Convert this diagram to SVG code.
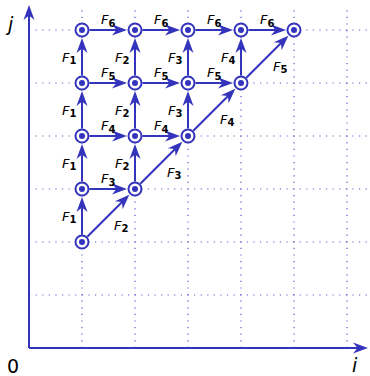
<svg xmlns="http://www.w3.org/2000/svg" width="370" height="376" viewBox="0 0 370 376">
<style>
.grid{stroke:#5a5ad0;stroke-width:1.2;stroke-dasharray:1.2 5.4;fill:none}
.axis{stroke:#3333bb;stroke-width:2;fill:none}
.edge{stroke:#3333bb;stroke-width:2;fill:none;marker-end:url(#ah)}
.node circle.o{fill:#fff;stroke:#3333bb;stroke-width:2}
.node circle.i{fill:#3333bb}
.lbl{font-family:"DejaVu Sans",sans-serif;font-size:13px;fill:#000}
.lbl .f{font-style:italic}
.lbl .s{font-weight:bold;font-size:10px}
.ax{font-family:"DejaVu Sans",sans-serif;font-size:19px;fill:#000}
</style>
<defs>
<marker id="ah" viewBox="-16 -6 17 12" markerWidth="17" markerHeight="12" refX="-5" refY="0" orient="auto" markerUnits="userSpaceOnUse">
<path d="M0,0 L-15,-5.5 L-10.5,0 L-15,5.5 Z" fill="#3333bb"/>
</marker>
<marker id="axh" viewBox="-16 -6 17 12" markerWidth="17" markerHeight="12" refX="-5" refY="0" orient="auto" markerUnits="userSpaceOnUse">
<path d="M0,0 L-15,-5.5 L-10.5,0 L-15,5.5 Z" fill="#3333bb"/>
</marker>
</defs>
<g id="grid">
<path class="grid" d="M82,348V8M135,348V8M188,348V8M241,348V8M294,348V8M347,348V8"/>
<path class="grid" d="M29,295H369M29,242H369M29,189H369M29,136H369M29,83H369M29,30H369"/>
</g>
<g id="axes">
<path class="axis" d="M29,348V10" marker-end="url(#axh)"/>
<path class="axis" d="M29,348H363" marker-end="url(#axh)"/>
<text class="ax" x="8" y="31" font-style="italic">j</text>
<text class="ax" x="352" y="372" font-style="italic">i</text>
<text class="ax" x="7" y="373">0</text>
</g>
<g id="connectors">
<path class="edge" d="M82,234.5V202"/>
<path class="edge" d="M82,181.5V149"/>
<path class="edge" d="M82,128.5V96"/>
<path class="edge" d="M82,75.5V43"/>
<path class="edge" d="M135,181.5V149"/>
<path class="edge" d="M135,128.5V96"/>
<path class="edge" d="M135,75.5V43"/>
<path class="edge" d="M188,128.5V96"/>
<path class="edge" d="M188,75.5V43"/>
<path class="edge" d="M241,75.5V43"/>
<path class="edge" d="M89.5,189H122"/>
<path class="edge" d="M89.5,136H122"/>
<path class="edge" d="M142.5,136H175"/>
<path class="edge" d="M89.5,83H122"/>
<path class="edge" d="M142.5,83H175"/>
<path class="edge" d="M195.5,83H228"/>
<path class="edge" d="M89.5,30H122"/>
<path class="edge" d="M142.5,30H175"/>
<path class="edge" d="M195.5,30H228"/>
<path class="edge" d="M248.5,30H281"/>
<path class="edge" d="M87.3,236.7L125.81,198.19"/>
<path class="edge" d="M140.3,183.7L178.81,145.19"/>
<path class="edge" d="M193.3,130.7L231.81,92.19"/>
<path class="edge" d="M246.3,77.7L284.81,39.19"/>
</g>
<g id="n12" class="node"><circle class="o" cx="82" cy="242" r="6.5"/><circle class="i" cx="82" cy="242" r="3"/></g>
<g id="n13" class="node"><circle class="o" cx="82" cy="189" r="6.5"/><circle class="i" cx="82" cy="189" r="3"/></g>
<g id="n14" class="node"><circle class="o" cx="82" cy="136" r="6.5"/><circle class="i" cx="82" cy="136" r="3"/></g>
<g id="n15" class="node"><circle class="o" cx="82" cy="83" r="6.5"/><circle class="i" cx="82" cy="83" r="3"/></g>
<g id="n16" class="node"><circle class="o" cx="82" cy="30" r="6.5"/><circle class="i" cx="82" cy="30" r="3"/></g>
<g id="n23" class="node"><circle class="o" cx="135" cy="189" r="6.5"/><circle class="i" cx="135" cy="189" r="3"/></g>
<g id="n24" class="node"><circle class="o" cx="135" cy="136" r="6.5"/><circle class="i" cx="135" cy="136" r="3"/></g>
<g id="n25" class="node"><circle class="o" cx="135" cy="83" r="6.5"/><circle class="i" cx="135" cy="83" r="3"/></g>
<g id="n26" class="node"><circle class="o" cx="135" cy="30" r="6.5"/><circle class="i" cx="135" cy="30" r="3"/></g>
<g id="n34" class="node"><circle class="o" cx="188" cy="136" r="6.5"/><circle class="i" cx="188" cy="136" r="3"/></g>
<g id="n35" class="node"><circle class="o" cx="188" cy="83" r="6.5"/><circle class="i" cx="188" cy="83" r="3"/></g>
<g id="n36" class="node"><circle class="o" cx="188" cy="30" r="6.5"/><circle class="i" cx="188" cy="30" r="3"/></g>
<g id="n45" class="node"><circle class="o" cx="241" cy="83" r="6.5"/><circle class="i" cx="241" cy="83" r="3"/></g>
<g id="n46" class="node"><circle class="o" cx="241" cy="30" r="6.5"/><circle class="i" cx="241" cy="30" r="3"/></g>
<g id="n56" class="node"><circle class="o" cx="294" cy="30" r="6.5"/><circle class="i" cx="294" cy="30" r="3"/></g>
<g id="labels" class="lbl">
<text x="62" y="220.5"><tspan class="f">F</tspan><tspan class="s" dy="2.5">1</tspan></text>
<text x="62" y="167.5"><tspan class="f">F</tspan><tspan class="s" dy="2.5">1</tspan></text>
<text x="62" y="114.5"><tspan class="f">F</tspan><tspan class="s" dy="2.5">1</tspan></text>
<text x="62" y="61.5"><tspan class="f">F</tspan><tspan class="s" dy="2.5">1</tspan></text>
<text x="115" y="167.5"><tspan class="f">F</tspan><tspan class="s" dy="2.5">2</tspan></text>
<text x="115" y="114.5"><tspan class="f">F</tspan><tspan class="s" dy="2.5">2</tspan></text>
<text x="115" y="61.5"><tspan class="f">F</tspan><tspan class="s" dy="2.5">2</tspan></text>
<text x="168" y="114.5"><tspan class="f">F</tspan><tspan class="s" dy="2.5">3</tspan></text>
<text x="168" y="61.5"><tspan class="f">F</tspan><tspan class="s" dy="2.5">3</tspan></text>
<text x="221" y="61.5"><tspan class="f">F</tspan><tspan class="s" dy="2.5">4</tspan></text>
<text x="101" y="183"><tspan class="f">F</tspan><tspan class="s" dy="2.5">3</tspan></text>
<text x="101" y="130"><tspan class="f">F</tspan><tspan class="s" dy="2.5">4</tspan></text>
<text x="154" y="130"><tspan class="f">F</tspan><tspan class="s" dy="2.5">4</tspan></text>
<text x="101" y="77"><tspan class="f">F</tspan><tspan class="s" dy="2.5">5</tspan></text>
<text x="154" y="77"><tspan class="f">F</tspan><tspan class="s" dy="2.5">5</tspan></text>
<text x="207" y="77"><tspan class="f">F</tspan><tspan class="s" dy="2.5">5</tspan></text>
<text x="101" y="24"><tspan class="f">F</tspan><tspan class="s" dy="2.5">6</tspan></text>
<text x="154" y="24"><tspan class="f">F</tspan><tspan class="s" dy="2.5">6</tspan></text>
<text x="207" y="24"><tspan class="f">F</tspan><tspan class="s" dy="2.5">6</tspan></text>
<text x="260" y="24"><tspan class="f">F</tspan><tspan class="s" dy="2.5">6</tspan></text>
<text x="114" y="229.5"><tspan class="f">F</tspan><tspan class="s" dy="2.5">2</tspan></text>
<text x="167" y="176.5"><tspan class="f">F</tspan><tspan class="s" dy="2.5">3</tspan></text>
<text x="220" y="123.5"><tspan class="f">F</tspan><tspan class="s" dy="2.5">4</tspan></text>
<text x="273" y="70.5"><tspan class="f">F</tspan><tspan class="s" dy="2.5">5</tspan></text>
</g>
</svg>
